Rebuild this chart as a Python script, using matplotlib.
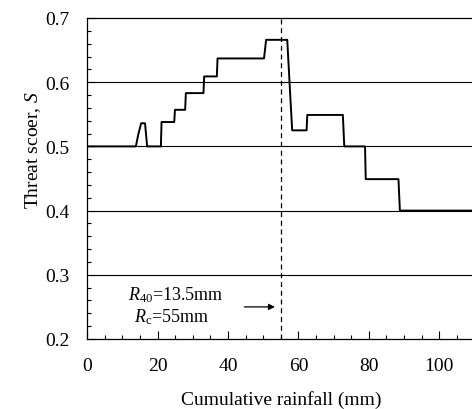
import matplotlib
matplotlib.use("Agg")
import matplotlib.pyplot as plt
from matplotlib.ticker import MultipleLocator

plt.rcParams["font.family"] = ["Liberation Serif", "DejaVu Serif"]
plt.rcParams["mathtext.fontset"] = "custom"
plt.rcParams["mathtext.rm"] = "Liberation Serif"
plt.rcParams["mathtext.it"] = "Liberation Serif:italic"

# Threat score vs cumulative rainfall (polyline vertices)
rainfall = [0, 13.8, 14.5, 15.3, 16.4, 17.0, 20.9, 21.1, 24.7, 24.9, 27.8, 28.0,
            33.0, 33.2, 36.8, 37.0, 50.2, 50.8, 56.8, 58.2, 62.3, 62.5,
            72.6, 73.0, 78.9, 79.1, 88.4, 88.8, 110]
score = [0.5, 0.5, 0.519, 0.536, 0.536, 0.5, 0.5, 0.538, 0.538, 0.557, 0.557, 0.583,
         0.583, 0.609, 0.609, 0.637, 0.637, 0.666, 0.666, 0.525, 0.525, 0.549,
         0.549, 0.5, 0.5, 0.449, 0.449, 0.4, 0.4]

grid_levels = [0.3, 0.4, 0.5, 0.6]
r_critical = 55
arrow_start, arrow_end, arrow_level = 44.6, 53.3, 0.25

fig = plt.figure(figsize=(4.72, 4.10), dpi=100)
ax = fig.add_axes([87.3 / 472, 70 / 410, 387.2 / 472, 321 / 410])

for lvl in grid_levels:
    ax.axhline(lvl, color="black", lw=0.8, zorder=1)

ax.plot(rainfall, score, color="black", lw=1.4, zorder=3)
ax.axvline(r_critical, color="black", lw=0.9, ls=(0, (4, 3)), zorder=2)

ax.annotate("", xy=(arrow_end, arrow_level), xytext=(arrow_start, arrow_level),
            arrowprops=dict(arrowstyle="-|>", color="black", lw=0.9,
                            mutation_scale=9, shrinkA=0, shrinkB=0))
ax.text(25.2, 0.27, r"$R_{40}$=13.5mm", ha="center", va="center", fontsize=13)
ax.text(23.8, 0.236, r"$R_{\mathrm{c}}$=55mm", ha="center", va="center", fontsize=13)

ax.set_xlim(0, 110)
ax.set_ylim(0.2, 0.7)
ax.xaxis.set_major_locator(MultipleLocator(20))
ax.xaxis.set_minor_locator(MultipleLocator(5))
ax.yaxis.set_major_locator(MultipleLocator(0.1))
ax.yaxis.set_minor_locator(MultipleLocator(0.02))
ax.tick_params(which="both", direction="in", top=False, right=False,
               labelsize=14, width=0.8)
ax.tick_params(which="major", length=6)
ax.tick_params(which="minor", length=3)
ax.tick_params(axis="x", pad=13)
ax.tick_params(axis="y", pad=13)
ax.set_yticks([0.2, 0.3, 0.4, 0.5, 0.6, 0.7])
ax.set_yticklabels(["0.2", "0.3", "0.4", "0.5", "0.6", "0.7"])
ax.set_xticks([0, 20, 40, 60, 80, 100])
ax.set_xticklabels(["0", "20", "40", "60", "80", "100"])

ax.set_xlabel("Cumulative rainfall (mm)", fontsize=14, va="center")
ax.xaxis.set_label_coords(0.5, (340 - 400) / 321)
ax.set_ylabel(r"Threat scoer, $S$", fontsize=14, va="center")
ax.yaxis.set_label_coords((33 - 87.3) / 387.2, (340 - 150) / 321)

for sp in ax.spines.values():
    sp.set_linewidth(0.9)

fig.savefig("out.png", dpi=100)
